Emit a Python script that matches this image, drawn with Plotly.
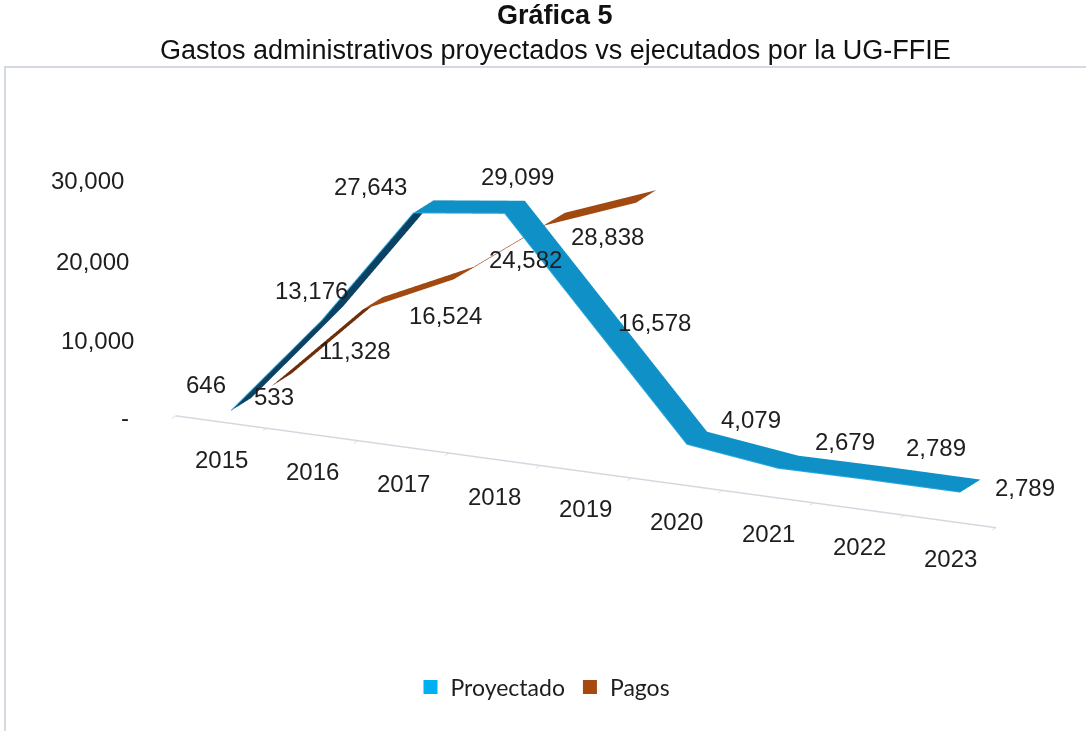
import math
import plotly.graph_objects as go

# ---------------- data ----------------
years = ["2015", "2016", "2017", "2018", "2019", "2020", "2021", "2022", "2023"]
proyectado = [646, 13176, 27643, 29099, 16578, 4079, 2679, 2789, 2789]
pagos = [533, 11328, 16524, 24582, 28838]
value_ticks = [0, 10000, 20000, 30000]
value_ticktext = ["-", "10,000", "20,000", "30,000"]

# ---------------- style ----------------
BLUE_TOP = "#0F90C6"
BLUE_UNDER = "#0B4263"
BLUE_EDGE = "#2AA9DF"
BLUE_LEGEND = "#00B0F0"
BROWN_TOP = "#A04A12"
BROWN_UNDER = "#6E2E0A"
BROWN_LEGEND = "#A5490F"
TEXT = "#1E1E1E"
AXIS = "#D3D8DF"
FONT = "Liberation Sans, Arial, sans-serif"
LEG_FONT = "Lato, Liberation Sans, sans-serif"
DEPTH_P, DEPTH_G = 0.0, 1.0
RIBBON = 0.5
ZMAX = 30000
ASPECT = dict(x=2.476, y=0.520, z=0.707)

# label offsets in px (xshift, yshift)
proy_off = [(-35, 20), (-21, 23), (-53, 20), (3, 31), (49, 0), (54, 18), (57, 20), (57, 26), (55, -2)]
pagos_off = [(-8, -17), (-18, -47), (-18, -42), (-29, -40), (-39, -40)]
zlab_xshift = [-45, -40, -45, -50]
zlab_yshift = [-2, -7, -10, -12]

# camera geometry (orthographic, from front-right, slightly above)
theta = math.radians(25)
phi = math.radians(17)
edir = (math.sin(theta) * math.cos(phi), -math.cos(theta) * math.cos(phi), math.sin(phi))


def ribbon_segments(vals, depth, top_color, under_color):
    """One flat ribbon piece per segment; darker where the underside faces the viewer."""
    traces = []
    dx_n = ASPECT["x"] / len(years)
    for k in range(len(vals) - 1):
        v0, v1 = vals[k], vals[k + 1]
        dz_n = (v1 - v0) / ZMAX * ASPECT["z"]
        top_visible = (-dz_n * edir[0] + dx_n * edir[2]) > 0
        col = top_color if top_visible else under_color
        traces.append(go.Surface(
            x=[k, k + 1],
            y=[depth - RIBBON / 2, depth + RIBBON / 2],
            z=[[v0, v1], [v0, v1]],
            surfacecolor=[[0, 0], [0, 0]],
            colorscale=[[0, col], [1, col]],
            cmin=0, cmax=1,
            showscale=False,
            hoverinfo="skip",
            showlegend=False,
            lighting=dict(ambient=1.0, diffuse=0.0, specular=0.0, roughness=1.0, fresnel=0.0),
        ))
    return traces


fig = go.Figure()
for tr in ribbon_segments(pagos, DEPTH_G, BROWN_TOP, BROWN_UNDER):
    fig.add_trace(tr)
for tr in ribbon_segments(proyectado, DEPTH_P, BLUE_TOP, BLUE_UNDER):
    fig.add_trace(tr)
# light front edge of the blue ribbon
fig.add_trace(go.Scatter3d(x=list(range(len(proyectado))), y=[DEPTH_P - RIBBON / 2] * len(proyectado),
                           z=proyectado, mode="lines", line=dict(color=BLUE_EDGE, width=2),
                           hoverinfo="skip", showlegend=False))

# legend entries
for nm, col in [("Proyectado", BLUE_LEGEND), ("Pagos", BROWN_LEGEND)]:
    fig.add_trace(go.Scatter3d(x=[None], y=[None], z=[None], mode="markers",
                               marker=dict(symbol="square", size=14, color=col),
                               name=nm, showlegend=True, hoverinfo="skip"))

ann = []
for i, v in enumerate(proyectado):
    ann.append(dict(x=i, y=DEPTH_P, z=v, text=f"{v:,}", showarrow=False,
                    xshift=proy_off[i][0], yshift=proy_off[i][1],
                    font=dict(family=FONT, size=24, color=TEXT)))
for i, v in enumerate(pagos):
    ann.append(dict(x=i, y=DEPTH_G, z=v, text=f"{v:,}", showarrow=False,
                    xshift=pagos_off[i][0], yshift=pagos_off[i][1],
                    font=dict(family=FONT, size=24, color=TEXT)))
for i, yr in enumerate(years):
    ann.append(dict(x=i, y=-0.5, z=0, text=yr, showarrow=False, yshift=-37,
                    font=dict(family=FONT, size=24, color=TEXT)))
for k, (tv, tt) in enumerate(zip(value_ticks, value_ticktext)):
    ann.append(dict(x=-0.5, y=-0.5, z=tv, text=tt, showarrow=False, xanchor="right",
                    xshift=zlab_xshift[k], yshift=zlab_yshift[k],
                    font=dict(family=FONT, size=24, color=TEXT)))

# shift the look-at point so the box sits right of / above the page centre
dist = 4.0
right = (math.cos(theta), math.sin(theta), 0.0)
up = (-math.sin(phi) * math.sin(theta), math.sin(phi) * math.cos(theta), math.cos(phi))
S = 365.7  # px per normalized scene unit at this figure height
shift_r, shift_u = -83.0 / S, -42.5 / S
cen = [shift_r * right[k] + shift_u * up[k] for k in range(3)]
eye = dict(x=cen[0] + dist * edir[0], y=cen[1] + dist * edir[1], z=cen[2] + dist * edir[2])
center = dict(x=cen[0], y=cen[1], z=cen[2])

hidden = dict(visible=False, showgrid=False, zeroline=False, showbackground=False,
              showspikes=False, title=dict(text=""))

fig.update_layout(
    width=1086, height=731,
    margin=dict(l=0, r=0, t=0, b=0),
    paper_bgcolor="white",
    scene=dict(
        domain=dict(x=[0.0, 1.0], y=[0.0, 1.0]),
        xaxis=dict(range=[-0.5, len(years) - 0.5], tickvals=[i - 0.5 for i in range(len(years) + 1)],
                   ticktext=[""] * (len(years) + 1), showticklabels=False,
                   showgrid=False, zeroline=False, showbackground=False, showspikes=False,
                   showline=True, linecolor=AXIS, linewidth=3, ticks="outside", ticklen=6,
                   tickcolor=AXIS, tickwidth=2, title=dict(text="")),
        yaxis=dict(range=[-0.5, 1.5], **hidden),
        zaxis=dict(range=[0, ZMAX], **hidden),
        aspectmode="manual",
        aspectratio=ASPECT,
        camera=dict(eye=eye, center=center, up=dict(x=0, y=0, z=1),
                    projection=dict(type="orthographic")),
        annotations=ann,
        bgcolor="rgba(0,0,0,0)",
    ),
    legend=dict(orientation="h", x=0.5, xanchor="center", y=1 - 687 / 731, yanchor="middle",
                font=dict(family=LEG_FONT, size=23, color=TEXT), itemwidth=30,
                bgcolor="rgba(0,0,0,0)"),
    annotations=[
        dict(xref="paper", yref="paper", x=555 / 1086, y=1 - 15 / 731, text="<b>Gráfica 5</b>",
             showarrow=False, xanchor="center", yanchor="middle",
             font=dict(family=FONT, size=27, color="#111")),
        dict(xref="paper", yref="paper", x=555 / 1086, y=1 - 50 / 731,
             text="Gastos administrativos proyectados vs ejecutados por la UG-FFIE",
             showarrow=False, xanchor="center", yanchor="middle",
             font=dict(family=FONT, size=27, color="#111")),
    ],
    shapes=[dict(type="rect", xref="paper", yref="paper", x0=5 / 1086, x1=1.02,
                 y0=-0.02, y1=1 - 67 / 731, line=dict(color="#D5DAE1", width=2),
                 fillcolor="rgba(0,0,0,0)", layer="below")],
)

fig.write_html("out.html", config={"displayModeBar": False},
               post_script="document.body.style.margin='0px';")
